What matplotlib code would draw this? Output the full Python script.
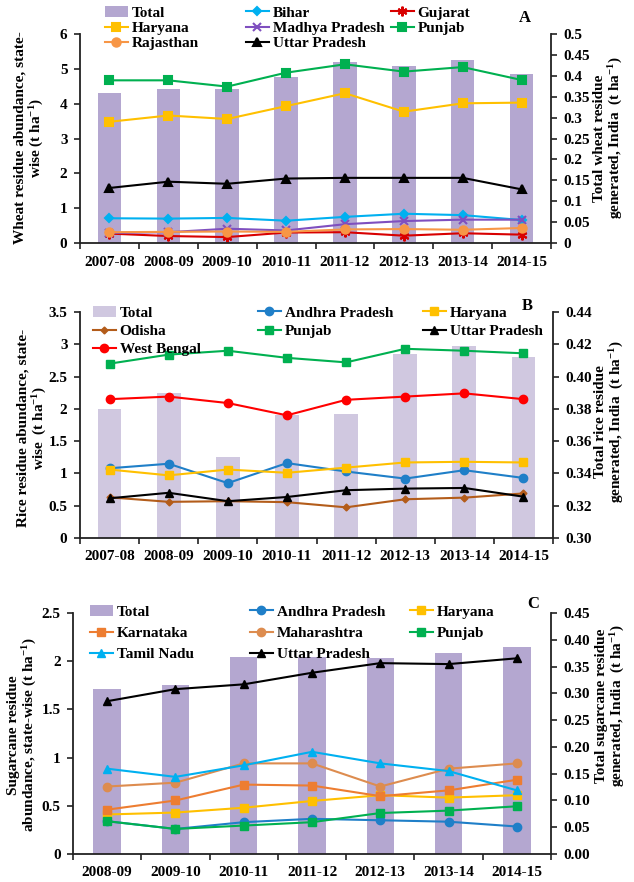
import matplotlib
matplotlib.use("Agg")
import matplotlib.pyplot as plt
import numpy as np
from matplotlib.ticker import FixedLocator, FuncFormatter

plt.rcParams['font.family'] = ['Liberation Serif', 'DejaVu Serif']
plt.rcParams['font.weight'] = 'bold'
plt.rcParams['axes.labelweight'] = 'bold'
plt.rcParams['mathtext.fontset'] = 'custom'
plt.rcParams['mathtext.rm'] = 'Liberation Serif:bold'
plt.rcParams['mathtext.it'] = 'Liberation Serif:bold'
plt.rcParams['mathtext.bf'] = 'Liberation Serif:bold'
plt.rcParams['mathtext.default'] = 'rm'

# ---------------- Wheat ----------------
years_wheat = ['2007-08', '2008-09', '2009-10', '2010-11', '2011-12', '2012-13', '2013-14', '2014-15']
wheat_total = [0.359, 0.368, 0.368, 0.398, 0.434, 0.424, 0.438, 0.404]
wheat_bihar = [0.71, 0.70, 0.72, 0.64, 0.75, 0.84, 0.80, 0.66]
wheat_gujarat = [0.27, 0.20, 0.17, 0.30, 0.31, 0.21, 0.28, 0.24]
wheat_haryana = [3.48, 3.66, 3.56, 3.93, 4.30, 3.77, 4.01, 4.03]
wheat_mp = [0.29, 0.31, 0.41, 0.36, 0.54, 0.63, 0.67, 0.67]
wheat_punjab = [4.67, 4.67, 4.49, 4.89, 5.13, 4.92, 5.05, 4.68]
wheat_rajasthan = [0.31, 0.32, 0.33, 0.32, 0.39, 0.40, 0.38, 0.43]
wheat_up = [1.58, 1.76, 1.70, 1.85, 1.87, 1.87, 1.87, 1.54]

# ---------------- Rice ----------------
years_rice = years_wheat
rice_total = [0.380, 0.390, 0.350, 0.376, 0.377, 0.414, 0.419, 0.412]
rice_ap = [1.08, 1.15, 0.85, 1.16, 1.03, 0.92, 1.05, 0.93]
rice_haryana = [1.06, 0.97, 1.06, 1.01, 1.09, 1.17, 1.18, 1.17]
rice_odisha = [0.63, 0.56, 0.57, 0.555, 0.475, 0.60, 0.625, 0.69]
rice_punjab = [2.70, 2.84, 2.90, 2.79, 2.72, 2.93, 2.90, 2.86]
rice_up = [0.615, 0.70, 0.57, 0.635, 0.74, 0.765, 0.775, 0.64]
rice_wb = [2.15, 2.19, 2.09, 1.90, 2.14, 2.19, 2.24, 2.15]

# ---------------- Sugarcane ----------------
years_sugar = ['2008-09', '2009-10', '2010-11', '2011-12', '2012-13', '2013-14', '2014-15']
sugar_total = [0.308, 0.315, 0.368, 0.368, 0.366, 0.376, 0.386]
sugar_ap = [0.34, 0.26, 0.33, 0.365, 0.35, 0.335, 0.285]
sugar_haryana = [0.41, 0.43, 0.48, 0.55, 0.61, 0.585, 0.61]
sugar_karnataka = [0.46, 0.555, 0.72, 0.71, 0.60, 0.66, 0.77]
sugar_maharashtra = [0.70, 0.74, 0.94, 0.94, 0.70, 0.885, 0.94]
sugar_punjab = [0.34, 0.26, 0.295, 0.33, 0.425, 0.45, 0.495]
sugar_tn = [0.885, 0.80, 0.92, 1.06, 0.94, 0.86, 0.66]
sugar_up = [1.585, 1.71, 1.76, 1.88, 1.98, 1.97, 2.03]

W, H = 634, 882
fig = plt.figure(figsize=(W / 100, H / 100), dpi=100)

FS = 11
SPINE = '#222222'
LW = 1.5
MS = 6


def make_axes(left, right, top, bottom):
    return fig.add_axes([left / W, 1 - bottom / H, (right - left) / W, (bottom - top) / H])


def style_axes(ax, ax2, years, ylim, yticks, ylim2, yticks2, fmt2):
    n = len(years)
    ax.set_xlim(-0.5, n - 0.5)
    ax.set_ylim(*ylim)
    ax2.set_ylim(*ylim2)
    ax.set_xticks(np.arange(n))
    ax.set_xticklabels(years, fontsize=FS, fontweight='bold')
    ax.xaxis.set_minor_locator(FixedLocator(np.arange(n + 1) - 0.5))
    ax.tick_params(axis='x', which='major', length=0, pad=9)
    ax.tick_params(axis='x', which='minor', length=4, width=1.2, color=SPINE, direction='out')
    ax.set_yticks(yticks)
    ax.yaxis.set_major_formatter(FuncFormatter(lambda v, p: f"{v:g}"))
    ax.tick_params(axis='y', length=4, width=1.2, color=SPINE, labelsize=FS, pad=5)
    ax2.set_yticks(yticks2)
    ax2.yaxis.set_major_formatter(FuncFormatter(fmt2))
    ax2.tick_params(axis='y', length=4, width=1.2, color=SPINE, labelsize=FS, pad=5)
    for a in (ax, ax2):
        a.spines['top'].set_visible(False)
        for s in ('left', 'right', 'bottom'):
            a.spines[s].set_color(SPINE)
            a.spines[s].set_linewidth(1.3)
    ax.spines['right'].set_visible(False)
    ax2.spines['left'].set_visible(False)
    ax2.spines['bottom'].set_visible(False)
    for lbl in ax.get_yticklabels() + ax2.get_yticklabels():
        lbl.set_fontweight('bold')
    ax.set_zorder(ax2.get_zorder() + 1)
    ax.patch.set_visible(False)


def column_legends(handles, labels, cols, xs, y_top, spacing):
    start = 0
    for size, x in zip(cols, xs):
        hs = handles[start:start + size]
        ls = labels[start:start + size]
        start += size
        fig.legend(hs, ls, loc='upper left', bbox_to_anchor=(x / W, 1 - y_top / H),
                   frameon=False, borderpad=0, borderaxespad=0, handlelength=1.5,
                   handletextpad=0.25, labelspacing=spacing, numpoints=1,
                   prop={'family': 'Liberation Serif', 'weight': 'bold', 'size': FS})


# ================= Panel A: wheat =================
axA = make_axes(80, 551, 34, 243)
axA2 = axA.twinx()
x = np.arange(len(years_wheat))
bA = axA2.bar(x, wheat_total, width=0.4, color='#b4a7d0', label='Total')
series_A = [
    ('Bihar', wheat_bihar, '#00b0f0', 'D', 4.5),
    ('Gujarat', wheat_gujarat, '#d80000', (6, 2, 0), 7),
    ('Haryana', wheat_haryana, '#ffc000', 's', MS),
    ('Madhya Pradesh', wheat_mp, '#7f4fbf', 'x', MS),
    ('Punjab', wheat_punjab, '#00b050', 's', MS),
    ('Rajasthan', wheat_rajasthan, '#f79646', 'o', MS),
    ('Uttar Pradesh', wheat_up, '#000000', '^', MS),
]
hA = {}
for name, vals, col, mk, ms in series_A:
    hA[name], = axA.plot(x, vals, color=col, marker=mk, ms=ms, lw=LW, mew=1.5, label=name)
style_axes(axA, axA2, years_wheat, (0, 6), np.arange(0, 7, 1),
           (0, 0.5), np.arange(0, 0.501, 0.05), lambda v, p: f"{v:g}")
order = ['Total', 'Haryana', 'Rajasthan', 'Bihar', 'Madhya Pradesh', 'Uttar Pradesh', 'Gujarat', 'Punjab']
hA['Total'] = bA
column_legends([hA[k] for k in order], order, [3, 3, 2], [105, 246, 391], 6, 0.1)
fig.text(525 / W, 1 - 18 / H, 'A', fontsize=12, fontweight='bold', ha='center', va='center')
fig.text(30 / W, 1 - 138 / H, 'Wheat residue abundance, state-\nwise (t ha$^{-1}$)',
         rotation=90, ha='center', va='center', fontsize=FS, fontweight='bold', linespacing=1.1)
fig.text(609 / W, 1 - 138 / H, 'Total wheat residue\ngenerated, India  (t ha$^{-1}$)',
         rotation=90, ha='center', va='center', fontsize=FS, fontweight='bold', linespacing=1.1)

# ================= Panel B: rice =================
axB = make_axes(80, 553, 312, 538)
axB2 = axB.twinx()
x = np.arange(len(years_rice))
bB = axB2.bar(x, rice_total, width=0.4, color='#d0c8e0', label='Total')
series_B = [
    ('Andhra Pradesh', rice_ap, '#1f7fc8', 'o', MS),
    ('Haryana', rice_haryana, '#ffc000', 's', MS),
    ('Odisha', rice_odisha, '#b35c1a', 'D', 3.5),
    ('Punjab', rice_punjab, '#00b050', 's', MS),
    ('Uttar Pradesh', rice_up, '#000000', '^', MS),
    ('West Bengal', rice_wb, '#ff0000', 'o', MS),
]
hB = {}
for name, vals, col, mk, ms in series_B:
    hB[name], = axB.plot(x, vals, color=col, marker=mk, ms=ms, lw=LW, label=name)
style_axes(axB, axB2, years_rice, (0, 3.5), np.arange(0, 3.51, 0.5),
           (0.30, 0.44), np.arange(0.30, 0.4401, 0.02), lambda v, p: f"{v:.2f}")
order = ['Total', 'Odisha', 'West Bengal', 'Andhra Pradesh', 'Punjab', 'Haryana', 'Uttar Pradesh']
hB['Total'] = bB
column_legends([hB[k] for k in order], order, [3, 2, 2], [93, 258, 423], 306, 0.3)
fig.text(527 / W, 1 - 306 / H, 'B', fontsize=12, fontweight='bold', ha='center', va='center')
fig.text(33 / W, 1 - 428 / H, 'Rice residue abundance, state-\nwise  (t ha$^{-1}$)',
         rotation=90, ha='center', va='center', fontsize=FS, fontweight='bold', linespacing=1.1)
fig.text(610 / W, 1 - 422 / H, 'Total rice residue\ngenerated, India  (t ha$^{-1}$)',
         rotation=90, ha='center', va='center', fontsize=FS, fontweight='bold', linespacing=1.1)

# ================= Panel C: sugarcane =================
axC = make_axes(73, 551, 613, 854)
axC2 = axC.twinx()
x = np.arange(len(years_sugar))
bC = axC2.bar(x, sugar_total, width=0.4, color='#b4a7d0', label='Total')
series_C = [
    ('Andhra Pradesh', sugar_ap, '#1f7fc8', 'o', MS),
    ('Haryana', sugar_haryana, '#ffc000', 's', MS),
    ('Karnataka', sugar_karnataka, '#ed7d31', 's', MS),
    ('Maharashtra', sugar_maharashtra, '#dd8c4f', 'o', MS),
    ('Punjab', sugar_punjab, '#00b050', 's', MS),
    ('Tamil Nadu', sugar_tn, '#00b0f0', '^', MS),
    ('Uttar Pradesh', sugar_up, '#000000', '^', 5.5),
]
hC = {}
for name, vals, col, mk, ms in series_C:
    hC[name], = axC.plot(x, vals, color=col, marker=mk, ms=ms, lw=LW, label=name)
style_axes(axC, axC2, years_sugar, (0, 2.5), np.arange(0, 2.51, 0.5),
           (0, 0.45), np.arange(0, 0.4501, 0.05), lambda v, p: f"{v:.2f}")
order = ['Total', 'Karnataka', 'Tamil Nadu', 'Andhra Pradesh', 'Maharashtra', 'Uttar Pradesh',
         'Haryana', 'Punjab']
hC['Total'] = bC
column_legends([hC[k] for k in order], order, [3, 3, 2], [90, 250, 410], 605, 0.5)
fig.text(533 / W, 1 - 604 / H, 'C', fontsize=12, fontweight='bold', ha='center', va='center')
fig.text(23 / W, 1 - 735 / H, 'Sugarcane residue\nabundance, state-wise (t ha$^{-1}$)',
         rotation=90, ha='center', va='center', fontsize=FS, fontweight='bold', linespacing=1.1)
fig.text(611 / W, 1 - 706 / H, 'Total sugarcane residue\ngenerated, India  (t ha$^{-1}$)',
         rotation=90, ha='center', va='center', fontsize=FS, fontweight='bold', linespacing=1.1)

fig.savefig('out.png', dpi=100)
